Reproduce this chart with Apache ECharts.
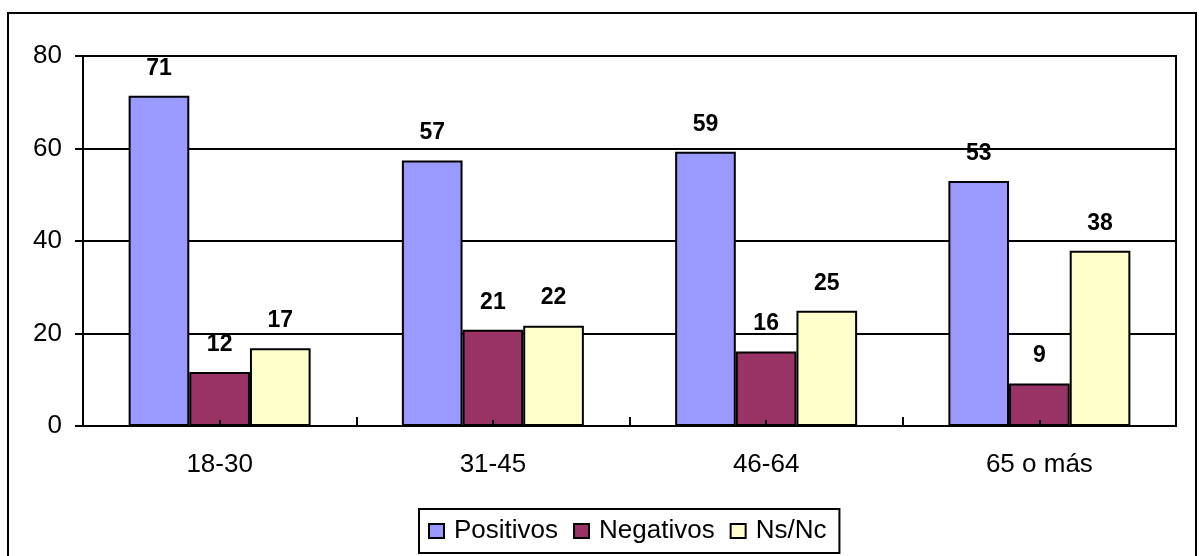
<!DOCTYPE html>
<html>
<head>
<meta charset="utf-8">
<script src="https://cdn.jsdelivr.net/npm/echarts@6/dist/echarts.min.js"></script>
<style>
html, body { margin: 0; padding: 0; background: #fff; }
#chart { width: 1199px; height: 556px; }
</style>
</head>
<body>
<div id="chart"></div>
<script>
// datos
var categorias = ['18-30', '31-45', '46-64', '65 o más'];
var positivos = [71.4, 57.4, 59.3, 53.0];
var negativos = [11.7, 20.8, 16.1, 9.2];
var nsnc = [16.8, 21.7, 24.9, 37.9];
var colores = ['#9999FF', '#993366', '#FFFFCC'];

var fuente = 'Liberation Sans, Arial, sans-serif';
var myChart = echarts.init(document.getElementById('chart'));

function serie(nombre, valores, color) {
    return {
        name: nombre,
        type: 'bar',
        data: valores,
        barGap: '0%',
        barCategoryGap: '33.4%',
        itemStyle: { color: color, borderColor: '#000', borderWidth: 2 },
        label: {
            show: true,
            position: 'top',
            distance: 16,
            color: '#000',
            fontFamily: fuente,
            fontWeight: 'bold',
            fontSize: 23,
            formatter: function (p) { return Math.round(p.value); }
        },
        z: 3
    };
}

var option = {
    animation: false,
    backgroundColor: '#fff',
    graphic: [{
        type: 'rect',
        shape: { x: 8, y: 13, width: 1188, height: 560 },
        style: { fill: null, stroke: '#000', lineWidth: 2 },
        z: -1
    }],
    grid: {
        left: 83, right: 23, top: 56, bottom: 130,
        show: true, borderColor: '#000', borderWidth: 2
    },
    legend: {
        left: 419, top: 509,
        padding: [8, 13, 8, 9],
        borderColor: '#000', borderWidth: 2,
        itemWidth: 15, itemHeight: 14, itemGap: 15,
        icon: 'rect',
        itemStyle: { borderColor: '#000', borderWidth: 2 },
        textStyle: { fontFamily: fuente, fontSize: 26, lineHeight: 28, color: '#000', padding: [0, 0, 0, 5] },
        data: ['Positivos', 'Negativos', 'Ns/Nc']
    },
    xAxis: [{
        type: 'category',
        data: categorias,
        axisLine: { lineStyle: { color: '#000', width: 2 } },
        axisTick: { show: true, inside: true, length: 9, alignWithLabel: false, lineStyle: { color: '#000', width: 2 } },
        axisLabel: { color: '#000', fontFamily: fuente, fontSize: 26, margin: 26 }
    }, {
        type: 'category',
        data: categorias,
        position: 'bottom',
        axisLine: { show: false },
        axisTick: { show: true, inside: true, length: 6, alignWithLabel: true, lineStyle: { color: '#000', width: 2 } },
        axisLabel: { show: false },
        z: 10
    }],
    yAxis: {
        type: 'value',
        min: 0, max: 80, interval: 20,
        axisLine: { show: true, lineStyle: { color: '#000', width: 2 } },
        axisTick: { show: true, length: 8, lineStyle: { color: '#000', width: 2 } },
        axisLabel: { color: '#000', fontFamily: fuente, fontSize: 26, margin: 21 },
        splitLine: { lineStyle: { color: '#000', width: 2 } }
    },
    series: [
        serie('Positivos', positivos, colores[0]),
        serie('Negativos', negativos, colores[1]),
        serie('Ns/Nc', nsnc, colores[2])
    ]
};
myChart.setOption(option);
</script>
</body>
</html>
